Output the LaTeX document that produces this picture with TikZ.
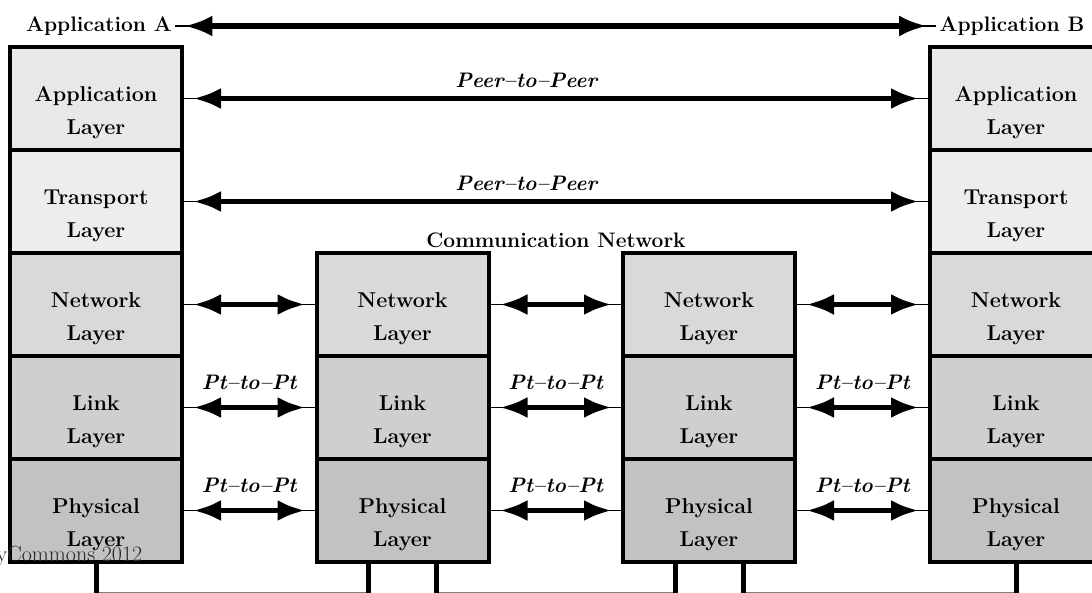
\documentclass[tikz,border=0pt]{standalone}
\usepackage{tikz}
\usetikzlibrary{arrows.meta}
\definecolor{appfill}{gray}{0.91}
\definecolor{trfill}{gray}{0.93}
\definecolor{netfill}{gray}{0.85}
\definecolor{linkfill}{gray}{0.81}
\definecolor{phyfill}{gray}{0.76}
\tikzset{
  layer/.style={draw, line width=4pt, minimum width=172pt, minimum height=103pt, inner sep=0pt},
  laytext/.style={font=\fontsize{21.5}{33}\selectfont\bfseries, align=center, yshift=-14pt},
  conn/.style={line width=5.5pt, {Latex[length=28pt,width=21pt]}-{Latex[length=28pt,width=21pt]},
    shorten <=9pt, shorten >=9pt,
    preaction={draw, line width=1.2pt, -, shorten <=0pt, shorten >=0pt}},
  peertag/.style={font=\fontsize{21}{24}\selectfont\bfseries\itshape, above=5pt},
  pttag/.style={font=\fontsize{21}{24}\selectfont\bfseries\itshape, above=12pt},
  title/.style={font=\fontsize{21}{24}\selectfont\bfseries},
  drop/.style={line width=5pt},
  bus/.style={line width=0.8pt, black!50}
}
\begin{document}
\begin{tikzpicture}[x=1pt, y=-1pt]
  \useasboundingbox (0,0) rectangle (1092,592);
  \clip (0,0) rectangle (1092,592);
  % end systems
  \foreach \s/\cx in {A/96, B/1016} {
    \foreach \l/\word/\col [count=\i] in {app/Application/appfill, tr/Transport/trfill,
        net/Network/netfill, link/Link/linkfill, phy/Physical/phyfill} {
      \node[layer, fill=\col] (\l\s) at (\cx, {98.5+103*(\i-1)}) {};
      \node[laytext] (\l\s txt) at (\l\s) {\word\\Layer};
    }
  }
  % routers of the network
  \foreach \s/\cx in {M1/402.5, M2/709} {
    \foreach \l/\word/\col [count=\i from 3] in {net/Network/netfill,
        link/Link/linkfill, phy/Physical/phyfill} {
      \node[layer, fill=\col] (\l\s) at (\cx, {98.5+103*(\i-1)}) {};
      \node[laytext] (\l\s txt) at (\l\s) {\word\\Layer};
    }
  }
  % titles
  \node[title] (nameA) at (99,26) {Application A};
  \node[title] (nameB) at (1012,26) {Application B};
  \node[title] (comnet) at (556,240) {Communication Network};
  % peer links
  \draw[conn] (nameA) -- (nameB);
  \draw[conn] (appA) -- (appB) node[peertag, pos=0.46] (peer1) {Peer--to--Peer};
  \draw[conn] (trA) -- (trB) node[peertag, pos=0.46] (peer2) {Peer--to--Peer};
  \draw[conn] (netA) -- (netM1);
  \draw[conn] (netM1) -- (netM2);
  \draw[conn] (netM2) -- (netB);
  \draw[conn] (linkA) -- (linkM1) node[pttag, midway] (pt1) {Pt--to--Pt};
  \draw[conn] (linkM1) -- (linkM2) node[pttag, midway] (pt2) {Pt--to--Pt};
  \draw[conn] (linkM2) -- (linkB) node[pttag, midway] (pt3) {Pt--to--Pt};
  \draw[conn] (phyA) -- (phyM1) node[pttag, midway] (pt4) {Pt--to--Pt};
  \draw[conn] (phyM1) -- (phyM2) node[pttag, midway] (pt5) {Pt--to--Pt};
  \draw[conn] (phyM2) -- (phyB) node[pttag, midway] (pt6) {Pt--to--Pt};
  % wires under the physical layers
  \draw[bus] ([yshift=-28pt]phyA.south) -- ([xshift=-34pt,yshift=-28pt]phyM1.south);
  \draw[bus] ([xshift=34pt,yshift=-28pt]phyM1.south) -- ([xshift=-34pt,yshift=-28pt]phyM2.south);
  \draw[bus] ([xshift=34pt,yshift=-28pt]phyM2.south) -- ([yshift=-28pt]phyB.south);
  \draw[drop] (phyA.south) -- ++(0,32);
  \draw[drop] ([xshift=-34pt]phyM1.south) -- ++(0,32);
  \draw[drop] ([xshift=34pt]phyM1.south) -- ++(0,32);
  \draw[drop] ([xshift=-34pt]phyM2.south) -- ++(0,32);
  \draw[drop] ([xshift=34pt]phyM2.south) -- ++(0,32);
  \draw[drop] (phyB.south) -- ++(0,32);
  \node[anchor=west, font=\fontsize{22}{24}\selectfont, black!85] (wm) at (-7,556) {yCommons 2012};
\end{tikzpicture}
\end{document}
